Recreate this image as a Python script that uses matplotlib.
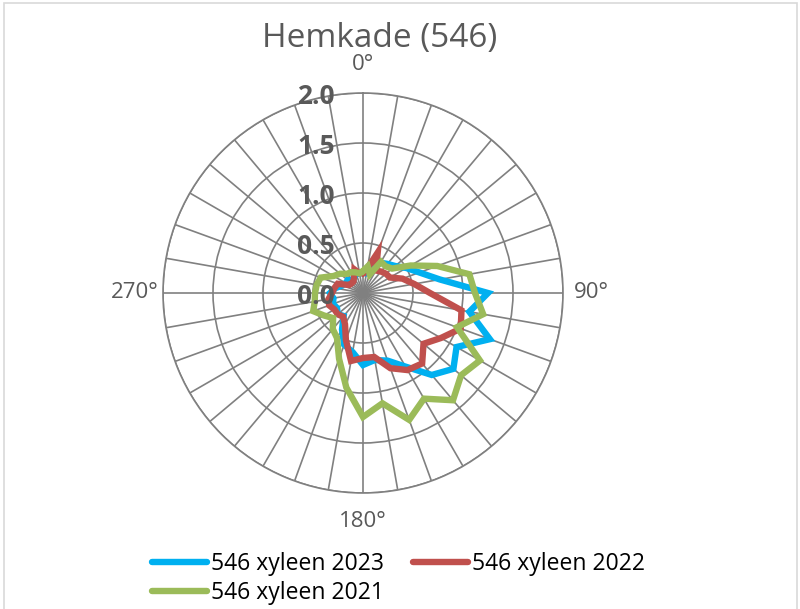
import numpy as np
import matplotlib
matplotlib.use('Agg')
import matplotlib.pyplot as plt
from matplotlib.lines import Line2D
from matplotlib import transforms

plt.rcParams['font.family'] = ['Open Sans', 'DejaVu Sans']

# wind direction (degrees, clockwise from north)
directions = list(range(0, 360, 10))

xyleen_2023 = [0.20, 0.20, 0.25, 0.35, 0.38, 0.42, 0.50, 0.60, 0.78, 1.25,
               1.08, 1.35, 1.08, 1.18, 1.07, 0.85, 0.72, 0.68, 0.72, 0.60,
               0.55, 0.42, 0.30, 0.33, 0.30, 0.32, 0.30, 0.33, 0.28, 0.22,
               0.20, 0.20, 0.17, 0.18, 0.20, 0.20]
xyleen_2022 = [0.20, 0.25, 0.43, 0.26, 0.28, 0.30, 0.31, 0.42, 0.52, 0.67,
               1.00, 1.04, 0.90, 0.79, 0.92, 0.89, 0.80, 0.65, 0.65, 0.69,
               0.50, 0.36, 0.31, 0.33, 0.33, 0.36, 0.35, 0.31, 0.29, 0.27,
               0.16, 0.15, 0.15, 0.18, 0.25, 0.20]
xyleen_2021 = [0.22, 0.27, 0.20, 0.36, 0.35, 0.38, 0.55, 0.79, 1.08, 1.12,
               1.22, 1.00, 1.35, 1.28, 1.40, 1.22, 1.35, 1.12, 1.24, 0.96,
               0.70, 0.52, 0.47, 0.39, 0.45, 0.53, 0.49, 0.48, 0.47, 0.45,
               0.34, 0.30, 0.25, 0.24, 0.22, 0.20]

series = [("546 xyleen 2023", xyleen_2023, "#00B0F0"),
          ("546 xyleen 2022", xyleen_2022, "#C0504D"),
          ("546 xyleen 2021", xyleen_2021, "#9BBB59")]

r_ticks = [0.0, 0.5, 1.0, 1.5, 2.0]
r_labels = ["0.0", "0.5", "1.0", "1.5", "2.0"]
dir_labels = {0: "0°", 90: "90°", 180: "180°", 270: "270°"}

grid_col = "#808080"
text_col = "#595959"

W, H = 800, 609
fig = plt.figure(figsize=(W / 100, H / 100), dpi=100)

# chart area border
fig.add_artist(plt.Rectangle((4 / W, -0.01), 793 / W, 1.01 - 3 / H,
                             transform=fig.transFigure, fill=False,
                             edgecolor="#D9D9D9", linewidth=1.2))

cx, cy, rad = 363, 293, 200
ax = fig.add_axes([(cx - rad) / W, 1 - (cy + rad) / H, 2 * rad / W, 2 * rad / H],
                  projection='polar')
ax.set_theta_zero_location('N')
ax.set_theta_direction(-1)
ax.set_ylim(0, 2.0)

theta = np.deg2rad(directions)
for label, vals, col in series:
    t = np.append(theta, theta[0])
    v = np.append(vals, vals[0])
    ax.plot(t, v, color=col, linewidth=4.6, solid_joinstyle='miter',
            label=label, zorder=3)

ax.set_thetagrids(directions, [dir_labels.get(d, "") for d in directions],
                  fontsize=16, color=text_col)
ax.tick_params(axis='x', pad=10)
ax.set_rgrids(r_ticks[1:], [""] * 4)
ax.grid(True, color=grid_col, linewidth=1.2)
ax.spines['polar'].set_color(grid_col)
ax.spines['polar'].set_linewidth(1.2)
ax.set_facecolor('white')

offset = transforms.ScaledTranslation(-28 / 100, -3 / 100, fig.dpi_scale_trans)
for r, lab in zip(r_ticks, r_labels):
    ax.text(0, r, lab, ha='right', va='center', fontsize=19, fontweight='bold',
            color=text_col, transform=ax.transData + offset, zorder=5)

fig.text(380 / W, 1 - 38 / H, "Hemkade (546)", ha='center', va='center',
         fontsize=24, color=text_col)

handles = [Line2D([], [], color=c, linewidth=4.6, solid_capstyle='round')
           for _, _, c in series]
labels = [s[0] for s in series]
order = [0, 2, 1]
fig.legend([handles[i] for i in order], [labels[i] for i in order],
           ncol=2, loc='upper left', bbox_to_anchor=(143 / W, 1 - 543 / H),
           frameon=False, fontsize=16.5, handlelength=2.4, handletextpad=0.15,
           columnspacing=1.3, labelspacing=0.2, borderaxespad=0,
           labelcolor='black')

fig.savefig("out.png", dpi=100)
